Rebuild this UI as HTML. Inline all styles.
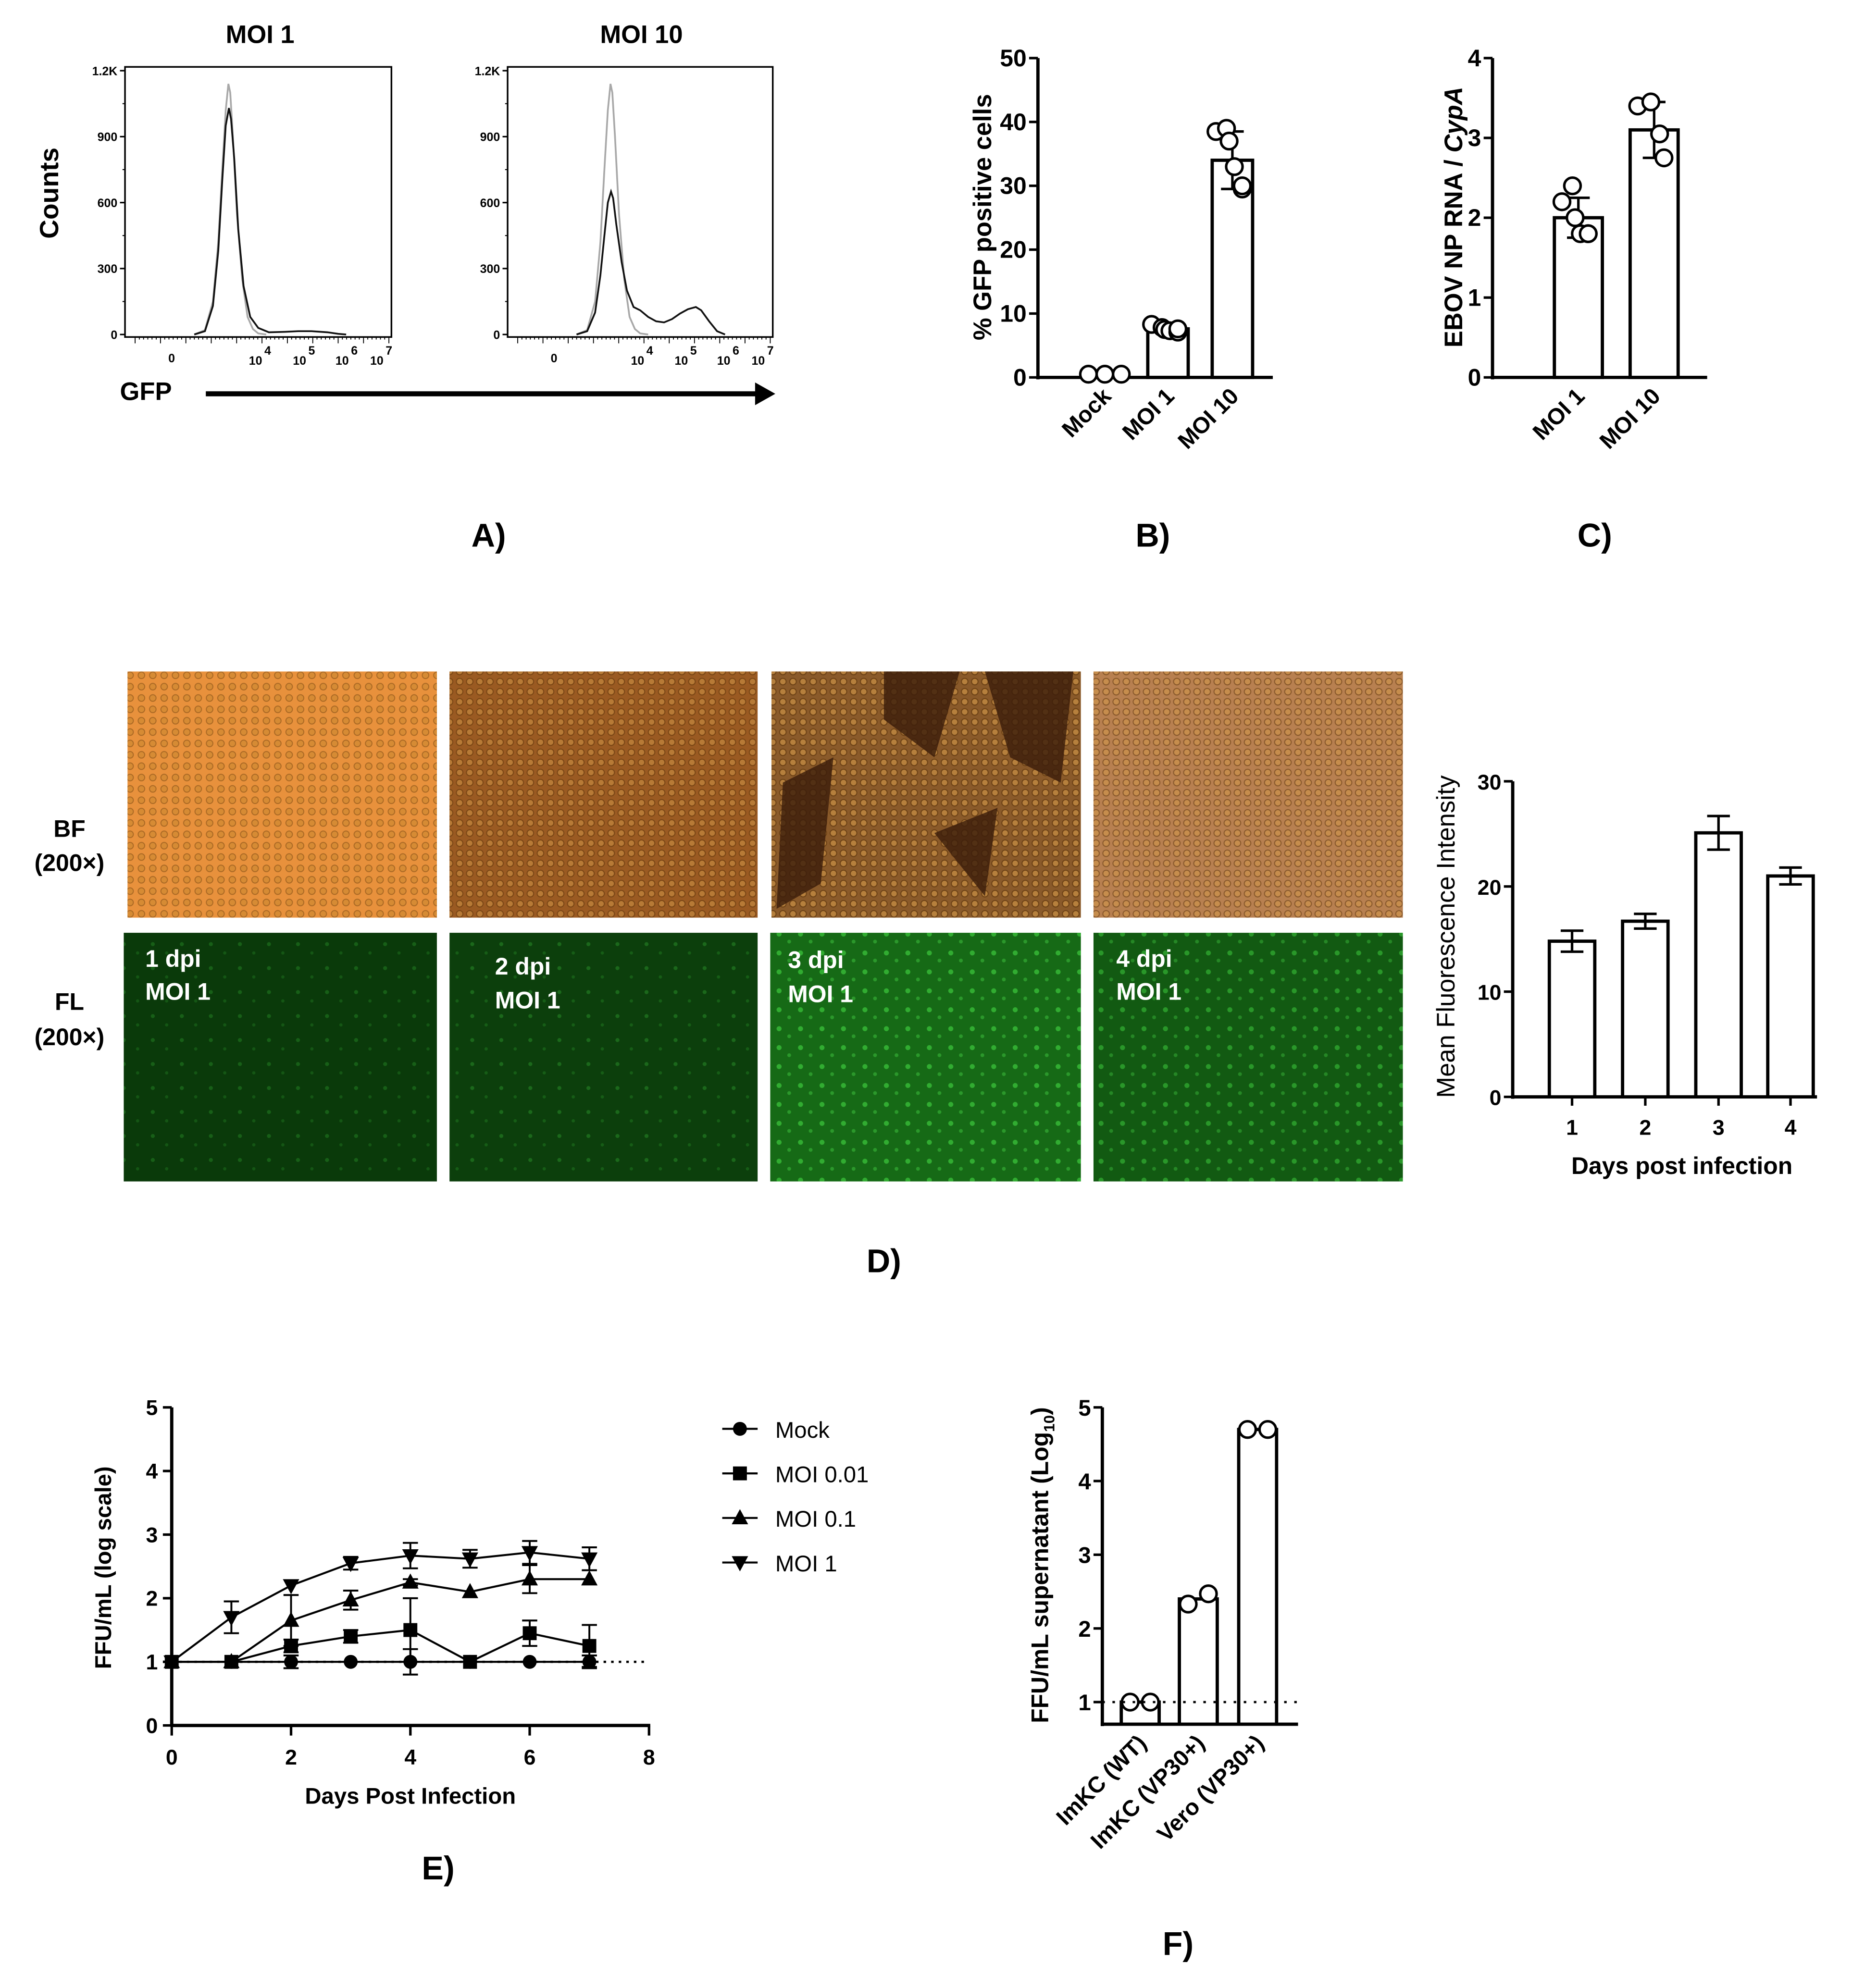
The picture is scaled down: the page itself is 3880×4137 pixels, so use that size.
<!DOCTYPE html>
<html><head><meta charset="utf-8">
<style>
html,body{margin:0;padding:0;background:#fff;}
svg{display:block;font-family:"Liberation Sans",sans-serif;}
text{font-weight:bold;fill:#000;}
</style></head>
<body>
<svg id="fig" width="3880" height="4137" viewBox="0 0 1477 1575" preserveAspectRatio="none" xmlns="http://www.w3.org/2000/svg">
<defs>
<pattern id="cellsA" width="9" height="9" patternUnits="userSpaceOnUse"><circle cx="4" cy="4" r="2.6" fill="#c7862d" stroke="#7a4a12" stroke-width="0.8"/></pattern>
<pattern id="cellsB" width="8" height="8" patternUnits="userSpaceOnUse"><circle cx="4" cy="4" r="2.6" fill="#d39a4a" stroke="#5a3208" stroke-width="0.8"/></pattern>
<pattern id="glow" width="23" height="19" patternUnits="userSpaceOnUse"><circle cx="6" cy="7" r="1.6" fill="#2fa02f" opacity="0.6"/><circle cx="17" cy="14" r="1.3" fill="#2a962a" opacity="0.5"/></pattern>
<pattern id="glow2" width="17" height="15" patternUnits="userSpaceOnUse"><circle cx="5" cy="5" r="2" fill="#3cc83c" opacity="0.7"/><circle cx="13" cy="11" r="1.5" fill="#38b838" opacity="0.6"/></pattern>
</defs>

<!-- Panel labels -->
<text x="387" y="433" font-size="26" text-anchor="middle">A)</text>
<text x="913" y="433" font-size="26" text-anchor="middle">B)</text>
<text x="1263" y="433" font-size="26" text-anchor="middle">C)</text>
<text x="700" y="1008" font-size="26" text-anchor="middle">D)</text>
<text x="347" y="1489" font-size="26" text-anchor="middle">E)</text>
<text x="933" y="1549" font-size="26" text-anchor="middle">F)</text>

<!-- Panel A static -->
<text x="206" y="34" font-size="20" text-anchor="middle">MOI 1</text>
<text x="508" y="34" font-size="20" text-anchor="middle">MOI 10</text>
<text x="0" y="0" font-size="21" text-anchor="middle" transform="translate(46,153) rotate(-90)">Counts</text>
<text x="95" y="317" font-size="20">GFP</text>
<line x1="163" y1="312" x2="600" y2="312" stroke="#000" stroke-width="4"/>
<polygon points="598,303 614,312 598,321" fill="#000"/>

<!-- Panel D photos -->
<g>
<rect x="101" y="532" width="245" height="195" fill="#e8913c"/>
<rect x="101" y="532" width="245" height="195" fill="url(#cellsA)" opacity="0.55"/>
<rect x="356" y="532" width="244" height="195" fill="#9a5a22"/>
<rect x="356" y="532" width="244" height="195" fill="url(#cellsB)" opacity="0.5"/>
<rect x="611" y="532" width="245" height="195" fill="#8a5a2a"/>
<rect x="611" y="532" width="245" height="195" fill="url(#cellsB)" opacity="0.6"/>
<path d="M700,532 L760,532 L740,600 L700,570 Z M620,620 L660,600 L650,700 L615,720 Z M780,532 L850,532 L840,620 L800,600 Z M740,660 L790,640 L780,710 Z" fill="#3a1c0a" opacity="0.8"/>
<rect x="866" y="532" width="245" height="195" fill="#b88050"/>
<rect x="866" y="532" width="245" height="195" fill="url(#cellsB)" opacity="0.5"/>
</g>
<g>
<rect x="98" y="739" width="248" height="197" fill="#0a3a0a"/>
<rect x="98" y="739" width="248" height="197" fill="url(#glow)" opacity="0.6"/>
<rect x="356" y="739" width="244" height="197" fill="#0c3f0c"/>
<rect x="356" y="739" width="244" height="197" fill="url(#glow)" opacity="0.7"/>
<rect x="610" y="739" width="246" height="197" fill="#166a16"/>
<rect x="610" y="739" width="246" height="197" fill="url(#glow2)"/>
<rect x="866" y="739" width="245" height="197" fill="#125a12"/>
<rect x="866" y="739" width="245" height="197" fill="url(#glow2)" opacity="0.8"/>
</g>
<g font-size="19">
<text x="115" y="766" style="fill:#fff">1 dpi</text><text x="115" y="792" style="fill:#fff">MOI 1</text>
<text x="392" y="772" style="fill:#fff">2 dpi</text><text x="392" y="799" style="fill:#fff">MOI 1</text>
<text x="624" y="767" style="fill:#fff">3 dpi</text><text x="624" y="794" style="fill:#fff">MOI 1</text>
<text x="884" y="766" style="fill:#fff">4 dpi</text><text x="884" y="792" style="fill:#fff">MOI 1</text>
</g>
<text x="55" y="663" font-size="19" text-anchor="middle">BF</text>
<text x="55" y="690" font-size="19" text-anchor="middle">(200×)</text>
<text x="55" y="800" font-size="19" text-anchor="middle">FL</text>
<text x="55" y="828" font-size="19" text-anchor="middle">(200×)</text>

<g id="charts"></g>
</svg>

<script>
// ---------- Data ----------
// Panel A (histograms): channel (0-1000) vs counts
const histYTicks = [0, 300, 600, 900, 1200];
const histYTickLabels = ['0', '300', '600', '900', '1.2K'];
const grayChan = [260, 300, 330, 350, 365, 378, 388, 395, 405, 420, 440, 460, 480, 500, 530];
const grayCounts = [0, 20, 150, 420, 750, 1020, 1140, 1100, 900, 550, 250, 80, 25, 5, 0];
const moi1Chan = [260, 300, 330, 350, 365, 378, 390, 398, 410, 425, 445, 470, 500, 540, 600, 650, 700, 760, 800, 830];
const moi1Counts = [0, 15, 130, 380, 700, 950, 1030, 980, 800, 480, 220, 80, 30, 10, 12, 15, 15, 10, 3, 0];
const moi10Chan = [260, 300, 330, 350, 365, 378, 390, 398, 410, 430, 450, 475, 500, 530, 560, 590, 620, 650, 680, 710, 730, 760, 790, 820];
const moi10Counts = [0, 15, 100, 270, 450, 600, 650, 620, 500, 330, 200, 125, 110, 80, 60, 55, 70, 95, 115, 125, 110, 60, 15, 0];
// Panel B
const bCats = ['Mock', 'MOI 1', 'MOI 10'];
const bMeans = [0.5, 7.6, 34];
const bErr = [0, 0.7, 4.5];
const bPoints = [[0.5, 0.5, 0.5], [8.3, 7.8, 7.5, 7.3, 7.1, 7.6], [38.5, 39, 37, 33, 29.5, 30]];
const bTicks = [0, 10, 20, 30, 40, 50];
// Panel C
const cCats = ['MOI 1', 'MOI 10'];
const cMeans = [2.0, 3.1];
const cErr = [0.25, 0.35];
const cPoints = [[2.2, 2.4, 2.0, 1.8, 1.8, 1.8], [3.4, 3.45, 3.05, 2.75]];
const cTicks = [0, 1, 2, 3, 4];
// Panel D bar chart
const dCats = ['1', '2', '3', '4'];
const dMeans = [14.8, 16.7, 25.1, 21.0];
const dErr = [1.0, 0.7, 1.6, 0.8];
const dTicks = [0, 10, 20, 30];
// Panel E
const eDays = [0, 1, 2, 3, 4, 5, 6, 7];
const eMock = [1, 1, 1, 1, 1, 1, 1, 1];
const eMockErr = [0, 0, 0.1, 0, 0.2, 0, 0, 0.1];
const eMoi001 = [1, 1, 1.25, 1.4, 1.5, 1, 1.45, 1.25];
const eMoi001Err = [0, 0, 0.1, 0.1, 0.5, 0, 0.2, 0.33];
const eMoi01 = [1, 1, 1.65, 1.97, 2.25, 2.1, 2.3, 2.3];
const eMoi01Err = [0, 0, 0.4, 0.15, 0.05, 0, 0.22, 0];
const eMoi1 = [1, 1.7, 2.2, 2.55, 2.67, 2.62, 2.72, 2.62];
const eMoi1Err = [0, 0.25, 0, 0.1, 0.2, 0.14, 0.18, 0.18];
const eXTicks = [0, 2, 4, 6, 8];
const eYTicks = [0, 1, 2, 3, 4, 5];
const eNames = ['Mock', 'MOI 0.01', 'MOI 0.1', 'MOI 1'];
// Panel F
const fCats = ['ImKC (WT)', 'ImKC (VP30+)', 'Vero (VP30+)'];
const fMeans = [1.0, 2.4, 4.7];
const fPoints = [[1.0, 1.0], [2.33, 2.47], [4.7, 4.7]];
const fTicks = [1, 2, 3, 4, 5];

// ---------- Helpers ----------
const NS = 'http://www.w3.org/2000/svg';
const root = document.getElementById('charts');
function mk(tag, attrs, parent) {
  const e = document.createElementNS(NS, tag);
  for (const k in attrs) e.setAttribute(k, attrs[k]);
  (parent || root).appendChild(e);
  return e;
}
function lin(d0, d1, r0, r1) { return v => r0 + (v - d0) / (d1 - d0) * (r1 - r0); }

// ---------- Panel A ----------
function hist(x0, x1, yTop, yBase, curves, nm) {
  const g = mk('g', {});
  
  
  const sx = lin(0, 1000, x0, x1), sy = lin(0, 1200, yBase, yTop + 3);
  const box = mk('rect', {x: x0, y: yTop, width: x1 - x0, height: yBase - yTop + 2, fill: 'none', stroke: '#000', 'stroke-width': 1.3}, g);
  
  
  for (let i = 0; i < histYTicks.length; i++) {
    const y = sy(histYTicks[i]);
    mk('line', {x1: x0 - 4, x2: x0, y1: y, y2: y, stroke: '#000', 'stroke-width': 1.2}, g);
    const t = mk('text', {x: x0 - 6, y: y + 3.5, 'font-size': 9.5, 'text-anchor': 'end'}, g);
    t.textContent = histYTickLabels[i];
    
    
  }
  for (let v = 150; v < 1200; v += 300) { const y = sy(v); mk('line', {x1: x0 - 2, x2: x0, y1: y, y2: y, stroke: '#000', 'stroke-width': 0.8}, g); }
  for (let i = 0; i <= 60; i++) { const x = x0 + 8 + i * (x1 - x0 - 10) / 60; mk('line', {x1: x, x2: x, y1: yBase + 2, y2: yBase + (i % 6 === 0 ? 7 : 4), stroke: '#000', 'stroke-width': 0.7}, g); }
  const lbls = [['0', 0.175], ['10', 0.49], ['10', 0.655], ['10', 0.815], ['10', 0.945]];
  const sup = ['', '4', '5', '6', '7'];
  lbls.forEach((l, i) => {
    const t = mk('text', {x: x0 + l[1] * (x1 - x0), y: yBase + (i ? 24 : 22), 'font-size': 9.5, 'text-anchor': 'middle'}, g);
    t.textContent = l[0];
    
    
    if (sup[i]) { const s = mk('text', {x: x0 + l[1] * (x1 - x0) + 7, y: yBase + 16, 'font-size': 9.5}, g); s.textContent = sup[i]; }
  });
  curves.forEach(c => {
    const p = mk('polyline', {points: c.ch.map((v, i) => sx(v) + ',' + sy(c.ct[i])).join(' '), fill: 'none', stroke: c.col, 'stroke-width': 1.4}, g);
    
    
  });
}
hist(99, 310, 53, 265, [{ch: grayChan, ct: grayCounts, col: '#a8a8a8', name: 'control-histogram'}, {ch: moi1Chan, ct: moi1Counts, col: '#111', name: 'moi1-histogram'}], 'histogram-moi1');
hist(402, 612, 53, 265, [{ch: grayChan, ct: grayCounts, col: '#a8a8a8', name: 'control-histogram'}, {ch: moi10Chan, ct: moi10Counts, col: '#111', name: 'moi10-histogram'}], 'histogram-moi10');

// ---------- generic bar chart ----------
function barChart(o) {
  const g = mk('g', {});
  
  
  const sy = lin(o.yMin, o.yMax, o.y0, o.y1);
  const yb = sy(o.yMin);
  const ya = mk('line', {x1: o.ax, x2: o.ax, y1: sy(o.yMax), y2: yb + 1.5, stroke: '#000', 'stroke-width': 2.6}, g);
  
  
  const xa = mk('line', {x1: o.ax - 1.3, x2: o.axEnd, y1: yb, y2: yb, stroke: '#000', 'stroke-width': 2.6}, g);
  
  
  o.ticks.forEach(v => {
    const y = sy(v);
    mk('line', {x1: o.ax - 7, x2: o.ax, y1: y, y2: y, stroke: '#000', 'stroke-width': 2}, g);
    const t = mk('text', {x: o.ax - 9, y: y + 6.5, 'font-size': o.tfs || o.fs, 'text-anchor': 'end'}, g);
    t.textContent = v;
    
    
  });
  o.cats.forEach((c, i) => {
    const cx = o.xs[i], m = o.means[i];
    const r = mk('rect', {x: cx - o.bw / 2, y: sy(m), width: o.bw, height: yb - sy(m), fill: '#fff', stroke: '#000', 'stroke-width': 2.6}, g);
    
    
    if (o.err && o.err[i]) {
      const e = o.err[i];
      mk('line', {x1: cx, x2: cx, y1: sy(m + e), y2: sy(m - e), stroke: '#000', 'stroke-width': 2}, g);
      mk('line', {x1: cx - 9, x2: cx + 9, y1: sy(m + e), y2: sy(m + e), stroke: '#000', 'stroke-width': 2}, g);
      mk('line', {x1: cx - 9, x2: cx + 9, y1: sy(m - e), y2: sy(m - e), stroke: '#000', 'stroke-width': 2}, g);
    }
    if (o.tickX) mk('line', {x1: cx, x2: cx, y1: yb, y2: yb + 7, stroke: '#000', 'stroke-width': 2}, g);
    if (o.points) {
      const pts = o.points[i], n = pts.length;
      pts.forEach((v, j) => {
        const off = n === 1 ? 0 : (j - (n - 1) / 2) * (o.spread / Math.max(n - 1, 1)) * (n > 3 && j % 2 ? 0.6 : 1);
        const ci = mk('circle', {cx: cx + off, cy: sy(v), r: 6.5, fill: '#fff', stroke: '#000', 'stroke-width': 2}, g);
        
        
      });
    }
    const t = mk('text', o.rot ? {x: 0, y: 0, 'font-size': o.fs, 'text-anchor': 'end', transform: `translate(${cx + 6},${yb + 16}) rotate(-45)`} : {x: cx, y: yb + 30, 'font-size': o.fs, 'text-anchor': 'middle'}, g);
    t.textContent = c;
    
    
  });
  return {g, sy};
}

// Panel B
barChart({name: 'chart-gfp-positive', cats: bCats, means: bMeans, err: bErr, points: bPoints, ticks: bTicks, yMin: 0, yMax: 50, y0: 299, y1: 46, ax: 822, axEnd: 1008, xs: [875, 925, 976], bw: 32, fs: 18, tfs: 19, rot: true, spread: 26});
const tb = mk('text', {x: 0, y: 0, 'font-size': 20, 'text-anchor': 'middle', transform: 'translate(785,172) rotate(-90)'});
tb.textContent = '% GFP positive cells';



// Panel C
barChart({name: 'chart-ebov-np-rna', cats: cCats, means: cMeans, err: cErr, points: cPoints, ticks: cTicks, yMin: 0, yMax: 4, y0: 299, y1: 46, ax: 1182, axEnd: 1352, xs: [1250, 1310], bw: 38, fs: 18, tfs: 19, rot: true, spread: 26});
const tc = mk('text', {x: 0, y: 0, 'font-size': 20, 'text-anchor': 'middle', transform: 'translate(1158,172) rotate(-90)'});
tc.innerHTML = 'EBOV NP RNA / <tspan font-style="italic">CypA</tspan>';



// Panel D
barChart({name: 'chart-mean-fluorescence', cats: dCats, means: dMeans, err: dErr, ticks: dTicks, yMin: 0, yMax: 30, y0: 869, y1: 619, ax: 1198, axEnd: 1439, xs: [1245, 1303, 1361, 1418], bw: 36, fs: 17, tickX: true});
const td = mk('text', {x: 0, y: 0, 'font-size': 20, 'text-anchor': 'middle', transform: 'translate(1152,742) rotate(-90)', style: 'font-weight:normal'});
td.textContent = 'Mean Fluorescence Intensity';


const tdx = mk('text', {x: 1332, y: 930, 'font-size': 19, 'text-anchor': 'middle'});
tdx.textContent = 'Days post infection';



// Panel F
const F = barChart({name: 'chart-ffu-supernatant', cats: fCats, means: fMeans, points: fPoints, ticks: fTicks, yMin: 0.7, yMax: 5, y0: 1366, y1: 1115, ax: 873, axEnd: 1028, xs: [903, 949, 996], bw: 30, fs: 18, rot: true, spread: 16});
const fl = mk('line', {x1: 873, x2: 1028, y1: F.sy(1), y2: F.sy(1), stroke: '#000', 'stroke-width': 1.8, 'stroke-dasharray': '2 6'});


const tf = mk('text', {x: 0, y: 0, 'font-size': 19, 'text-anchor': 'middle', transform: 'translate(830,1240) rotate(-90)'});
tf.innerHTML = 'FFU/mL supernatant (Log<tspan font-size="12" dy="5">10</tspan><tspan dy="-5">)</tspan>';



// ---------- Panel E ----------
(function () {
  const g = mk('g', {});
  
  
  const sx = lin(0, 8, 136, 514), sy = lin(0, 5, 1367, 1115);
  const ya = mk('line', {x1: 136, x2: 136, y1: 1115, y2: 1368, stroke: '#000', 'stroke-width': 2.6}, g);
  
  
  const xa = mk('line', {x1: 135, x2: 515, y1: 1367, y2: 1367, stroke: '#000', 'stroke-width': 2.6}, g);
  
  
  eYTicks.forEach(v => {
    mk('line', {x1: 129, x2: 136, y1: sy(v), y2: sy(v), stroke: '#000', 'stroke-width': 2}, g);
    const t = mk('text', {x: 125, y: sy(v) + 6, 'font-size': 17, 'text-anchor': 'end'}, g);
    t.textContent = v;
    
    
  });
  eXTicks.forEach(v => {
    mk('line', {x1: sx(v), x2: sx(v), y1: 1367, y2: 1375, stroke: '#000', 'stroke-width': 2}, g);
    const t = mk('text', {x: sx(v), y: 1398, 'font-size': 17, 'text-anchor': 'middle'}, g);
    t.textContent = v;
    
    
  });
  const dl = mk('line', {x1: 136, x2: 514, y1: sy(1), y2: sy(1), stroke: '#000', 'stroke-width': 1.8, 'stroke-dasharray': '2 4'}, g);
  
  
  const yt = mk('text', {x: 0, y: 0, 'font-size': 18, 'text-anchor': 'middle', transform: 'translate(88,1242) rotate(-90)'}, g);
  yt.textContent = 'FFU/mL (log scale)';
  
  
  const xt = mk('text', {x: 325, y: 1429, 'font-size': 18, 'text-anchor': 'middle'}, g);
  xt.textContent = 'Days Post Infection';
  
  

  function marker(shape, x, y, parent) {
    let e;
    if (shape === 0) e = mk('circle', {cx: x, cy: y, r: 5.5, fill: '#000'}, parent);
    else if (shape === 1) e = mk('rect', {x: x - 5.5, y: y - 5.5, width: 11, height: 11, fill: '#000'}, parent);
    else if (shape === 2) e = mk('polygon', {points: `${x},${y - 7} ${x - 6.5},${y + 5} ${x + 6.5},${y + 5}`, fill: '#000'}, parent);
    else e = mk('polygon', {points: `${x},${y + 7} ${x - 6.5},${y - 5} ${x + 6.5},${y - 5}`, fill: '#000'}, parent);
    return e;
  }
  const series = [[eMock, eMockErr], [eMoi001, eMoi001Err], [eMoi01, eMoi01Err], [eMoi1, eMoi1Err]];
  series.forEach((s, k) => {
    const sg = mk('g', {}, g);
    
    
    mk('polyline', {points: eDays.map((d, i) => sx(d) + ',' + sy(s[0][i])).join(' '), fill: 'none', stroke: '#000', 'stroke-width': 1.6}, sg);
    eDays.forEach((d, i) => {
      const x = sx(d), v = s[0][i], e = s[1][i];
      if (e) {
        mk('line', {x1: x, x2: x, y1: sy(v + e), y2: sy(v - e), stroke: '#000', 'stroke-width': 1.5}, sg);
        mk('line', {x1: x - 6, x2: x + 6, y1: sy(v + e), y2: sy(v + e), stroke: '#000', 'stroke-width': 1.5}, sg);
        mk('line', {x1: x - 6, x2: x + 6, y1: sy(v - e), y2: sy(v - e), stroke: '#000', 'stroke-width': 1.5}, sg);
      }
      const m = marker(k, x, sy(v), sg);
      
      
    });
    const ly = 1132 + k * 35.3;
    const lg = mk('g', {}, g);
    
    
    mk('line', {x1: 572, x2: 600, y1: ly, y2: ly, stroke: '#000', 'stroke-width': 1.6}, lg);
    marker(k, 586, ly, lg);
    const t = mk('text', {x: 614, y: ly + 7, 'font-size': 18, style: 'font-weight:normal'}, lg);
    t.textContent = eNames[k];
  });
})();
</script>
</body></html>
